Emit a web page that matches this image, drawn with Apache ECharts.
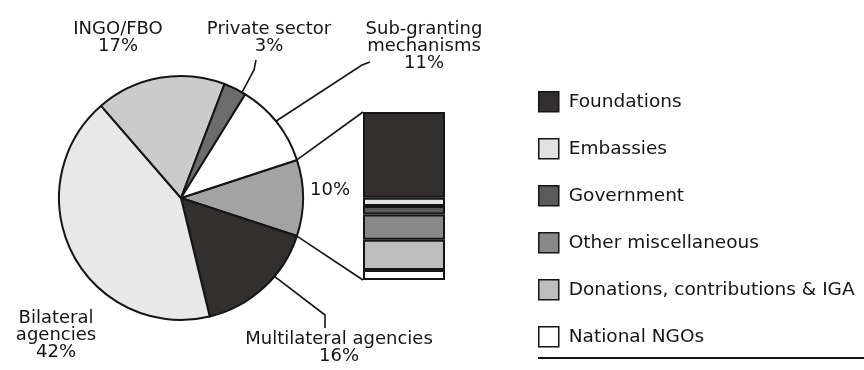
<!DOCTYPE html>
<html>
<head>
<meta charset="utf-8">
<script src="https://cdn.jsdelivr.net/npm/echarts@6/dist/echarts.min.js"></script>
<style>
  html, body { margin: 0; padding: 0; background: #ffffff; }
  #chart { width: 864px; height: 370px; }
</style>
</head>
<body>
<div id="chart"></div>
<script>
// Funding sources (share of total, %), listed clockwise from the exploded slice
const sourceNames = ['Other sources', 'Multilateral agencies', 'Bilateral\nagencies', 'INGO/FBO', 'Private sector', 'Sub-granting\nmechanisms'];
const sourceShares = [10, 16, 42, 17, 3, 11];

// Breakdown of the 10% slice (stacked bar, bottom to top)
const breakdownNames = ['National NGOs', 'Donations, contributions & IGA', 'Other miscellaneous', 'Government', 'Embassies', 'Foundations'];
const breakdownShares = [6, 18, 15, 5, 5, 51];

// Legend order (top to bottom)
const legendOrder = ['Foundations', 'Embassies', 'Government', 'Other miscellaneous', 'Donations, contributions & IGA', 'National NGOs'];

const pieColors = ['#a3a3a3', '#332f2e', '#e8e8e8', '#cbcbcb', '#6c6c6c', '#ffffff'];
const barColors = ['#ffffff', '#bdbdbd', '#888888', '#5a5a5a', '#e2e2e2', '#332f2e'];

const FONT = 'DejaVu Sans';
const INK = '#151515';
const PIE_CX = 181, PIE_CY = 198, PIE_R = 122;

const total = sourceShares.reduce((a, b) => a + b, 0);
const startAngle = 360 * sourceShares[0] / total / 2;

function edgePoint(deg, r) {
  const a = deg * Math.PI / 180;
  return [PIE_CX + (r || PIE_R) * Math.cos(a), PIE_CY - (r || PIE_R) * Math.sin(a)];
}

// Label placement for each slice (text anchor + leader line path)
const labelPlacement = [
  { x: 330, y: 190, align: 'center', verticalAlign: 'middle' },
  { x: 339, y: 331, align: 'center', verticalAlign: 'top', line: [edgePoint(-40), [325, 315], [325, 328]] },
  { x: 56, y: 310, align: 'center', verticalAlign: 'top' },
  { x: 118, y: 21, align: 'center', verticalAlign: 'top' },
  { x: 269, y: 21, align: 'center', verticalAlign: 'top', line: [edgePoint(60), [254, 70], [256, 60]] },
  { x: 424, y: 21, align: 'center', verticalAlign: 'top', line: [edgePoint(39), [362, 65], [370, 62]] }
];

const pieData = sourceNames.map((name, i) => ({
  name: name,
  value: sourceShares[i],
  itemStyle: { color: pieColors[i] },
  label: i === 0 ? { formatter: '{c}%' } : {},
  labelLine: { show: !!labelPlacement[i].line }
}));

const barSeries = breakdownNames.map((name, i) => ({
  name: name,
  type: 'bar',
  stack: 'breakdown',
  barWidth: '100%',
  data: [breakdownShares[i]],
  itemStyle: { color: barColors[i], borderColor: INK, borderWidth: 2 },
  emphasis: { disabled: true },
  silent: true
}));

const chart = echarts.init(document.getElementById('chart'), null, { renderer: 'canvas' });

const BAR_GRID = { left: 363, top: 112, width: 82, height: 168 };

chart.setOption({
  backgroundColor: '#ffffff',
  animation: false,
  textStyle: { fontFamily: FONT },
  grid: Object.assign({ containLabel: false }, BAR_GRID),
  xAxis: { type: 'category', data: [''], show: false, boundaryGap: true },
  yAxis: { type: 'value', min: 0, max: 100, show: false },
  legend: {
    data: legendOrder,
    orient: 'vertical',
    left: 538,
    top: 91,
    padding: 0,
    itemWidth: 20,
    itemHeight: 20,
    itemGap: 25.5,
    icon: 'rect',
    selectedMode: false,
    itemStyle: { borderColor: INK, borderWidth: 1.5 },
    textStyle: { fontFamily: FONT, fontSize: 18.5, color: INK, lineHeight: 20, padding: [0, 0, 0, 5] }
  },
  series: [
    {
      type: 'pie',
      center: [PIE_CX, PIE_CY],
      radius: PIE_R,
      startAngle: startAngle,
      clockwise: true,
      avoidLabelOverlap: false,
      silent: true,
      emphasis: { disabled: true },
      itemStyle: { borderColor: INK, borderWidth: 2 },
      label: {
        show: true,
        position: 'outside',
        formatter: '{b}\n{c}%',
        fontFamily: FONT,
        fontSize: 18,
        lineHeight: 17,
        color: INK
      },
      labelLine: { lineStyle: { color: INK, width: 1.6 }, smooth: false },
      labelLayout: function (params) {
        const p = labelPlacement[params.dataIndex];
        const out = { x: p.x, y: p.y, align: p.align, verticalAlign: p.verticalAlign };
        if (p.line) out.labelLinePoints = p.line;
        return out;
      },
      data: pieData
    }
  ].concat(barSeries)
});

// Connectors from the exploded slice to the breakdown bar, plus the rule under the legend
const barTop = chart.convertToPixel({ gridIndex: 0 }, [0, 100]);
const barBottom = chart.convertToPixel({ gridIndex: 0 }, [0, 0]);
const barLeft = barTop[0] - BAR_GRID.width / 2;
const sliceTop = edgePoint(startAngle);
const sliceBottom = edgePoint(-startAngle);

chart.setOption({
  graphic: [
    { type: 'line', silent: true, shape: { x1: sliceTop[0], y1: sliceTop[1], x2: barLeft, y2: barTop[1] }, style: { stroke: INK, lineWidth: 1.6 } },
    { type: 'line', silent: true, shape: { x1: sliceBottom[0], y1: sliceBottom[1], x2: barLeft, y2: barBottom[1] }, style: { stroke: INK, lineWidth: 1.6 } },
    { type: 'line', silent: true, shape: { x1: 538, y1: 358, x2: 864, y2: 358 }, style: { stroke: INK, lineWidth: 2 } }
  ]
});
</script>
</body>
</html>
